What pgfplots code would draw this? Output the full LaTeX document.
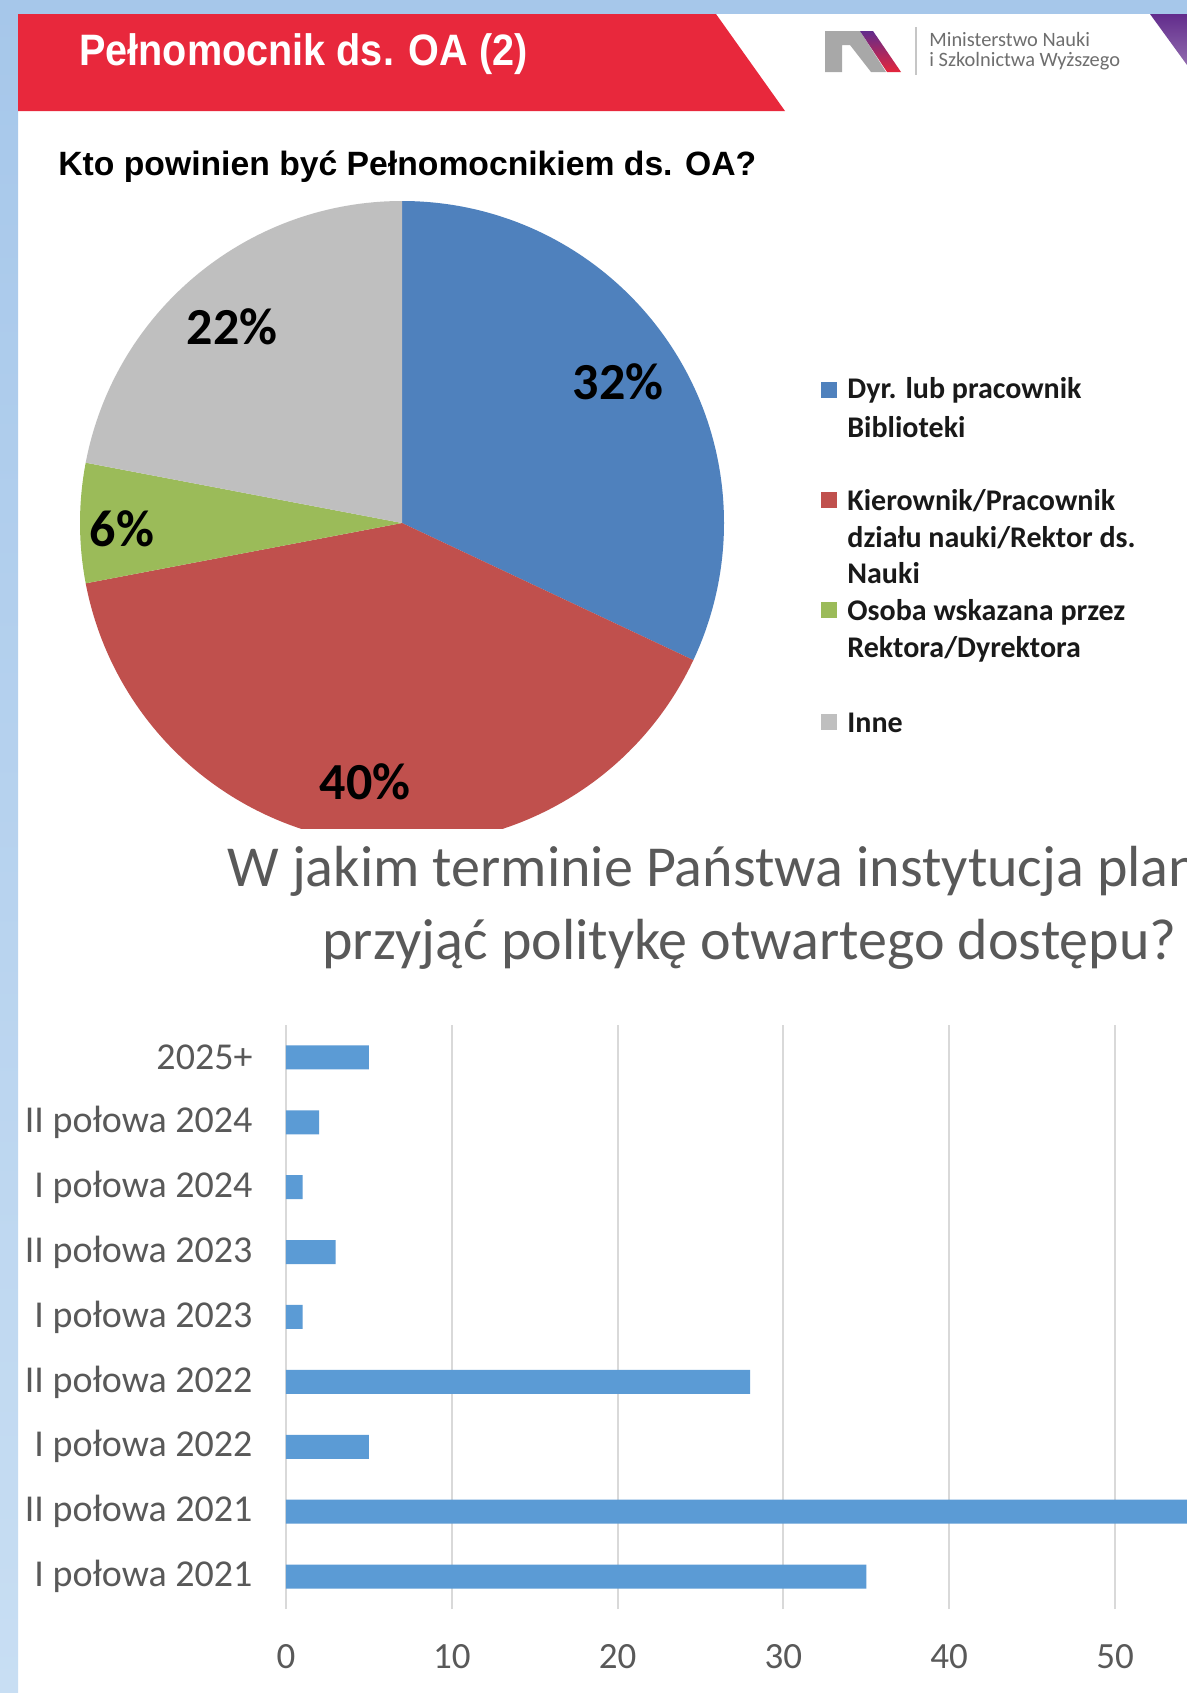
\documentclass[border=0pt]{standalone}
\usepackage{fontspec}
\setmainfont{Carlito}
\newfontfamily\arialfont{Liberation Sans}
\usepackage{pgfplots}
\pgfplotsset{compat=1.18}
\definecolor{pblue}{HTML}{4F81BD}
\definecolor{pred}{HTML}{C0504D}
\definecolor{pgreen}{HTML}{9BBB59}
\definecolor{pgray}{HTML}{BFBFBF}
\definecolor{barblue}{HTML}{5B9BD5}
\definecolor{gridgray}{HTML}{D9D9D9}
\definecolor{txtgray}{HTML}{595959}
\definecolor{banner}{HTML}{E8283C}
\definecolor{sidetop}{RGB}{166,199,234}
\definecolor{sidebot}{RGB}{200,222,243}
\definecolor{logogray}{RGB}{168,168,168}
\definecolor{logotext}{RGB}{110,110,110}
\definecolor{mpurple}{RGB}{98,44,140}
\definecolor{mred}{RGB}{228,37,59}
% pie shares (percent)
\def\pA{32}\def\pB{40}\def\pC{6}\def\pD{22}
\begin{document}
\begin{tikzpicture}
\useasboundingbox (0,0) rectangle (593.5pt,-846.5pt);
\clip (0,0) rectangle (593.5pt,-846.5pt);
\fill[white] (0,0) rectangle (593.5pt,-846.5pt);
\begin{scope}[x=0.5pt,y=-0.5pt]
  % slide frame
  \shade[top color=sidetop,bottom color=sidebot] (0,0) rectangle (18,1693);
  \fill[sidetop] (0,0) rectangle (1187,14);
  % header banner
  \fill[banner] (18,14) -- (716,14) -- (785,111) -- (18,111) -- cycle;
  \node[anchor=base west, font=\arialfont\bfseries\fontsize{22}{26}\selectfont,
        text=white, xscale=0.9, inner sep=0pt] at (79,65) {Pełnomocnik ds. OA (2)};
  % logo
  \fill[logogray] (825,31) -- (860,31) -- (886,72) -- (871,72) -- (850,45)
        -- (842,45) -- (842,72) -- (825,72) -- cycle;
  \shade[top color=mpurple, bottom color=mred] (860,31) -- (873,31) -- (901,72) -- (887,72) -- cycle;
  \draw[gray!45, line width=0.6pt] (916,27) -- (916,75);
  \node[anchor=base west, font=\fontsize{10.2}{12}\selectfont, text=logotext, inner sep=0pt]
        at (929,46) {Ministerstwo Nauki};
  \node[anchor=base west, font=\fontsize{10.2}{12}\selectfont, text=logotext, inner sep=0pt]
        at (929,66) {i Szkolnictwa Wyższego};
  \shade[top color=mpurple, bottom color=mpurple!70] (1150,14) -- (1187,14) -- (1187,65) -- cycle;
  % subtitle
  \node[anchor=base west, font=\arialfont\bfseries\fontsize{16.85}{20}\selectfont, inner sep=0pt]
        at (58,175) {Kto powinien być Pełnomocnikiem ds. OA?};
  % legend of the pie
  \fill[pblue]  (821,382) rectangle (837,398);
  \fill[pred]   (821,492) rectangle (837,508);
  \fill[pgreen] (821,602) rectangle (837,618);
  \fill[pgray]  (821,714) rectangle (837,730);
  \begin{scope}[every node/.style={anchor=base west, inner sep=0pt,
        font=\bfseries\fontsize{15}{18}\selectfont, text=black!90}]
    \node at (847,398) {Dyr. lub pracownik};
    \node at (847,437) {Biblioteki};
    \node at (847,510) {Kierownik/Pracownik};
    \node at (847,547) {działu nauki/Rektor ds.};
    \node at (847,583) {Nauki};
    \node at (847,620) {Osoba wskazana przez};
    \node at (847,657) {Rektora/Dyrektora};
    \node at (847,732) {Inne};
  \end{scope}
  % bar chart title
  \node[anchor=base west, font=\fontsize{29}{34}\selectfont, text=txtgray, inner sep=0pt]
        at (227,886) {W jakim terminie Państwa instytucja planuje};
  \node[anchor=base west, font=\fontsize{29}{34}\selectfont, text=txtgray, inner sep=0pt]
        at (322,959) {przyjąć politykę otwartego dostępu?};
\end{scope}

% ---------- pie chart ----------
\begin{axis}[at={(201pt,-261.5pt)}, anchor=origin,
  x=161pt, y=161pt, xmin=-1.1, xmax=1.1, ymin=-0.95, ymax=1.1,
  hide axis, clip=true]
  \fill[pblue]  (axis cs:0,0) -- ++({90}:161pt)
     arc[start angle={90}, delta angle={-3.6*\pA}, radius=161pt] -- cycle;
  \fill[pred]   (axis cs:0,0) -- ++({90-3.6*\pA}:161pt)
     arc[start angle={90-3.6*\pA}, delta angle={-3.6*\pB}, radius=161pt] -- cycle;
  \fill[pgreen] (axis cs:0,0) -- ++({90-3.6*(\pA+\pB)}:161pt)
     arc[start angle={90-3.6*(\pA+\pB)}, delta angle={-3.6*\pC}, radius=161pt] -- cycle;
  \fill[pgray]  (axis cs:0,0) -- ++({90-3.6*(\pA+\pB+\pC)}:161pt)
     arc[start angle={90-3.6*(\pA+\pB+\pC)}, delta angle={-3.6*\pD}, radius=161pt] -- cycle;
  \begin{scope}[every node/.style={anchor=center, inner sep=0pt,
        font=\bfseries\fontsize{26}{30}\selectfont, text=black}]
    \node at (axis cs:0.671,0.438) {\pA\%};
    \node at (axis cs:-0.115,-0.804) {\pB\%};
    \node at (axis cs:-0.870,-0.019) {\pC\%};
    \node at (axis cs:-0.528,0.609) {\pD\%};
  \end{scope}
\end{axis}

% ---------- bar chart ----------
\begin{axis}[at={(143pt,-804.5pt)}, anchor=south west,
  x=8.29pt, y=32.45pt,
  xmin=0, xmax=60, ymin=-0.5, ymax=8.5,
  xbar, bar width=12pt,
  axis line style={draw=none},
  major tick style={draw=none},
  xmajorgrids, grid style={gridgray, line width=1pt},
  xtick={0,10,...,50},
  extra x ticks={60}, extra x tick labels={},
  extra x tick style={grid=major},
  ytick={0,...,8},
  yticklabels={I połowa 2021, II połowa 2021, I połowa 2022, II połowa 2022,
    I połowa 2023, II połowa 2023, I połowa 2024, II połowa 2024, 2025+},
  /pgf/number format/assume math mode=true,
  tick label style={text=txtgray, inner sep=0pt},
  xticklabel style={font=\fontsize{18.5}{22}\selectfont, anchor=center, yshift=-24pt},
  yticklabel style={font=\fontsize{19}{23}\selectfont, anchor=east, xshift=-12.3pt},
  clip=true]
  \addplot[fill=barblue, draw=none] coordinates {
    (35,0) (58,1) (5,2) (28,3) (1,4) (3,5) (1,6) (2,7) (5,8)};
\end{axis}
\end{tikzpicture}
\end{document}
